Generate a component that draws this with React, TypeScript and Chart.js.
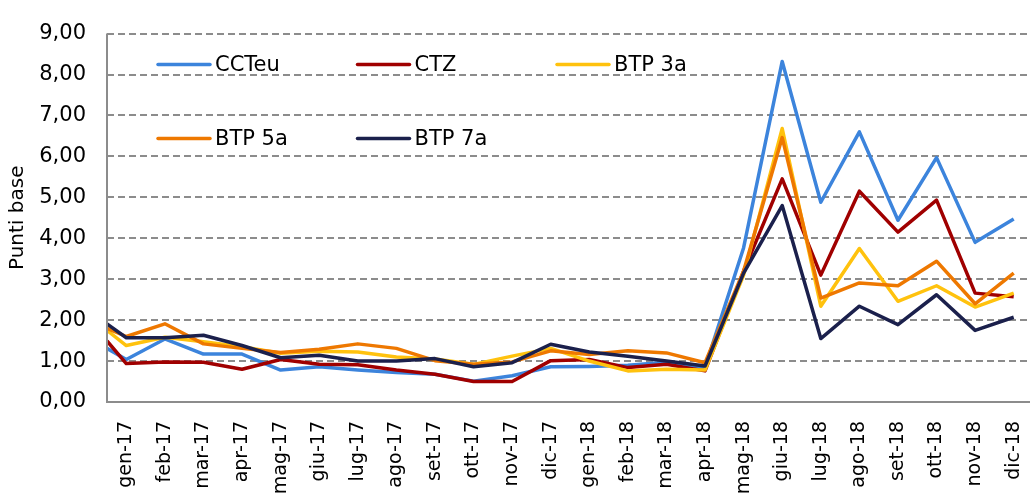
import React, { useEffect, useRef } from 'react';
import { Chart, registerables } from 'chart.js';

Chart.register(...registerables);

const FONT = 'DejaVu Sans';

const categories = [
  'gen-17', 'feb-17', 'mar-17', 'apr-17', 'mag-17', 'giu-17', 'lug-17', 'ago-17', 'set-17', 'ott-17', 'nov-17', 'dic-17',
  'gen-18', 'feb-18', 'mar-18', 'apr-18', 'mag-18', 'giu-18', 'lug-18', 'ago-18', 'set-18', 'ott-18', 'nov-18', 'dic-18',
];

// value at the left edge of the plot (line enters from the axis), then one value per category
const cctEuStart = 1.31;
const cctEu = [1.04, 1.54, 1.17, 1.17, 0.78, 0.86, 0.78, 0.72, 0.68, 0.51, 0.64, 0.86, 0.87, 0.9, 0.97, 0.84, 3.77, 8.32, 4.88, 6.6, 4.44, 5.97, 3.9, 4.47];
const ctzStart = 1.49;
const ctz = [0.94, 0.98, 0.97, 0.8, 1.04, 0.92, 0.91, 0.78, 0.68, 0.5, 0.5, 1.01, 1.04, 0.84, 0.92, 0.76, 3.2, 5.45, 3.1, 5.15, 4.15, 4.93, 2.66, 2.57];
const btp3Start = 1.75;
const btp3 = [1.38, 1.58, 1.47, 1.35, 1.19, 1.24, 1.22, 1.1, 1.05, 0.92, 1.12, 1.31, 1.0, 0.76, 0.8, 0.78, 3.1, 6.68, 2.34, 3.75, 2.46, 2.84, 2.32, 2.66];
const btp5Start = 1.8;
const btp5 = [1.6, 1.91, 1.42, 1.31, 1.21, 1.29, 1.42, 1.31, 1.01, 0.92, 0.98, 1.25, 1.16, 1.25, 1.2, 0.96, 3.2, 6.46, 2.54, 2.91, 2.84, 3.44, 2.4, 3.15];
const btp7Start = 1.91;
const btp7 = [1.57, 1.57, 1.63, 1.38, 1.08, 1.14, 1.0, 1.0, 1.06, 0.86, 0.96, 1.41, 1.22, 1.12, 1.0, 0.88, 3.15, 4.8, 1.55, 2.34, 1.89, 2.62, 1.75, 2.07];

const seriesNames = ['CCTeu', 'CTZ', 'BTP 3a', 'BTP 5a', 'BTP 7a'];
const seriesColors = ['#3C84DC', '#A00000', '#FFC20E', '#EE7800', '#1B204C'];
const seriesStarts = [cctEuStart, ctzStart, btp3Start, btp5Start, btp7Start];
const seriesValues = [cctEu, ctz, btp3, btp5, btp7];

const yTicks = [0, 1, 2, 3, 4, 5, 6, 7, 8, 9];

const insideLegend = {
  id: 'insideLegend',
  afterDatasetsDraw(chart: any) {
    const { ctx, chartArea } = chart;
    ctx.save();
    ctx.font = `21px "${FONT}"`;
    ctx.textBaseline = 'middle';
    ctx.textAlign = 'left';
    chart.data.datasets.forEach((ds: any, i: number) => {
      const col = i % 3;
      const row = Math.floor(i / 3);
      const x0 = chartArea.left + 51 + col * 199.5;
      const y = chartArea.top + 31 + row * 74;
      ctx.setLineDash([]);
      ctx.strokeStyle = ds.borderColor;
      ctx.lineWidth = 3.5;
      ctx.lineCap = 'round';
      ctx.beginPath();
      ctx.moveTo(x0, y);
      ctx.lineTo(x0 + 52, y);
      ctx.stroke();
      ctx.fillStyle = '#000000';
      ctx.fillText(ds.label, x0 + 57, y + 1);
    });
    ctx.restore();
  },
};

// solid vertical axis line drawn over the dashed grid's border position
const solidYAxis = {
  id: 'solidYAxis',
  afterDatasetsDraw(chart: any) {
    const { ctx, chartArea } = chart;
    ctx.save();
    ctx.setLineDash([]);
    ctx.strokeStyle = '#8c8c8c';
    ctx.lineWidth = 2;
    ctx.beginPath();
    ctx.moveTo(chartArea.left, chartArea.top);
    ctx.lineTo(chartArea.left, chartArea.bottom);
    ctx.stroke();
    ctx.restore();
  },
};

export default function App() {
  const canvasRef = useRef<HTMLCanvasElement | null>(null);

  useEffect(() => {
    if (!canvasRef.current) return;
    const datasets = seriesNames.map((name, s) => ({
      label: name,
      data: [
        { x: -0.5, y: seriesStarts[s] },
        ...seriesValues[s].map((v, i) => ({ x: i, y: v })),
      ],
      borderColor: seriesColors[s],
      backgroundColor: seriesColors[s],
      borderWidth: 3.5,
      pointRadius: 0,
      tension: 0,
      borderJoinStyle: 'round' as const,
      borderCapStyle: 'butt' as const,
      order: -s,
    }));

    const chart = new Chart(canvasRef.current, {
      type: 'line',
      data: { datasets },
      plugins: [insideLegend, solidYAxis],
      options: {
        responsive: false,
        animation: false,
        devicePixelRatio: 1,
        layout: { padding: { top: 24, left: 0, right: 1, bottom: 0 } },
        plugins: { legend: { display: false }, tooltip: { enabled: false } },
        scales: {
          x: {
            type: 'linear',
            min: -0.5,
            max: categories.length - 0.5,
            grid: { display: false, drawTicks: false },
            border: { display: true, color: '#8c8c8c', width: 2 },
            afterBuildTicks: (scale: any) => {
              scale.ticks = categories.map((_, i) => ({ value: i }));
            },
            afterFit: (scale: any) => {
              scale.height = 91;
              scale.paddingLeft = 0;
              scale.paddingRight = 0;
            },
            ticks: {
              autoSkip: false,
              minRotation: 90,
              maxRotation: 90,
              padding: 19,
              color: '#000000',
              font: { family: FONT, size: 19 },
              callback: (_v: any, index: number) => categories[index],
            },
          },
          y: {
            min: 0,
            max: 9,
            afterBuildTicks: (scale: any) => {
              scale.ticks = yTicks.map((v) => ({ value: v }));
            },
            afterFit: (scale: any) => {
              scale.width = 107;
            },
            grid: {
              color: '#8c8c8c',
              lineWidth: 2,
              drawTicks: false,
            },
            border: { display: false, dash: [7, 4] } as any,
            ticks: {
              padding: 21,
              color: '#000000',
              font: { family: FONT, size: 21 },
              callback: (v: any) => Number(v).toFixed(2).replace('.', ','),
            },
            title: {
              display: true,
              text: 'Punti base',
              color: '#000000',
              font: { family: FONT, size: 20 },
              padding: { top: 6, bottom: 0 },
            },
          },
        },
      },
    });
    return () => chart.destroy();
  }, []);

  return (
    <div style={{ position: 'fixed', left: 0, top: 0, width: 1030, height: 493, overflow: 'hidden', background: '#ffffff' }}>
      <canvas ref={canvasRef} width={1034} height={493} style={{ display: 'block' }} />
    </div>
  );
}
